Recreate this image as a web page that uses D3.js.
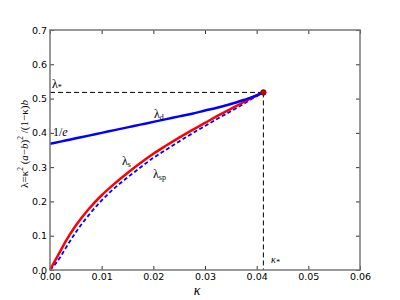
<!DOCTYPE html>
<html>
<head>
<meta charset="utf-8">
<script src="https://cdn.jsdelivr.net/npm/d3@7"></script>
<style>
  body { margin: 0; background: #fff; }
  svg { display: block; }
  .tick text { font-family: "DejaVu Sans", sans-serif; font-size: 9.5px; fill: #000; }
  .math { font-family: "Liberation Serif", "DejaVu Serif", serif; }
</style>
</head>
<body>
<svg id="chart" width="400" height="300"></svg>
<script>
// kappa grid shared by the curves
const kappa = [0, 0.0005, 0.001, 0.002, 0.003, 0.005, 0.0075, 0.01, 0.0125, 0.015,
  0.0175, 0.02, 0.0225, 0.025, 0.0275, 0.03, 0.0325, 0.035, 0.0375, 0.04, 0.0413];
// lambda_s (red solid)
const lamS = [0, 0.014, 0.028, 0.055, 0.083, 0.130, 0.178, 0.218, 0.252, 0.283,
  0.312, 0.339, 0.363, 0.386, 0.408, 0.429, 0.450, 0.470, 0.490, 0.509, 0.518];
// lambda_sp (blue dashed)
const lamSp = [0, 0.008, 0.017, 0.038, 0.063, 0.110, 0.160, 0.203, 0.239, 0.270,
  0.299, 0.327, 0.351, 0.375, 0.398, 0.420, 0.442, 0.463, 0.485, 0.507, 0.518];
// lambda_d (blue solid)
const lamD = [0.368, 0.3696, 0.3712, 0.3744, 0.3776, 0.384, 0.392, 0.400, 0.408, 0.416,
  0.424, 0.432, 0.440, 0.448, 0.456, 0.465, 0.474, 0.484, 0.496, 0.509, 0.518];

const kStar = 0.0413, lStar = 0.518;
const xTicks = [0, 0.01, 0.02, 0.03, 0.04, 0.05, 0.06];
const yTicks = [0, 0.1, 0.2, 0.3, 0.4, 0.5, 0.6, 0.7];

const svg = d3.select('#chart');
const m = { left: 50, right: 360, top: 30, bottom: 270 };

const x = d3.scaleLinear().domain([0, 0.06]).range([m.left, m.right]);
const y = d3.scaleLinear().domain([0, 0.7]).range([m.bottom, m.top]);

// axes, ticks pointing inward on all four sides
const axisStyle = g => {
  g.select('.domain').remove();
  g.selectAll('.tick line').attr('stroke', '#000').attr('stroke-width', 0.8);
};
svg.append('g').attr('transform', `translate(0,${m.bottom})`)
  .call(d3.axisBottom(x).tickValues(xTicks).tickFormat(d3.format('.2f')).tickSizeInner(-4).tickPadding(3))
  .call(axisStyle);
svg.append('g').attr('transform', `translate(0,${m.top})`)
  .call(d3.axisTop(x).tickValues(xTicks).tickFormat('').tickSizeInner(-4))
  .call(axisStyle);
svg.append('g').attr('transform', `translate(${m.left},0)`)
  .call(d3.axisLeft(y).tickValues(yTicks).tickFormat(d3.format('.1f')).tickSizeInner(-4).tickPadding(3))
  .call(axisStyle);
svg.append('g').attr('transform', `translate(${m.right},0)`)
  .call(d3.axisRight(y).tickValues(yTicks).tickFormat('').tickSizeInner(-4))
  .call(axisStyle);

// dashed guides to the critical point
svg.append('line')
  .attr('x1', x(0)).attr('x2', x(kStar)).attr('y1', y(lStar)).attr('y2', y(lStar))
  .attr('stroke', '#000').attr('stroke-width', 1).attr('stroke-dasharray', '5,3');
svg.append('line')
  .attr('x1', x(kStar)).attr('x2', x(kStar)).attr('y1', y(lStar)).attr('y2', y(0))
  .attr('stroke', '#000').attr('stroke-width', 1).attr('stroke-dasharray', '5,3');

const line = vals => d3.line().x((d, i) => x(kappa[i])).y(d => y(d)).curve(d3.curveMonotoneX)(vals);

svg.append('path').attr('d', line(lamSp)).attr('fill', 'none')
  .attr('stroke', '#0000ff').attr('stroke-width', 1.8).attr('stroke-dasharray', '4,2.5');
svg.append('path').attr('d', line(lamS)).attr('fill', 'none')
  .attr('stroke', '#ff0000').attr('stroke-width', 2.5);
svg.append('path').attr('d', line(lamD)).attr('fill', 'none')
  .attr('stroke', '#0000ff').attr('stroke-width', 2.5);

svg.append('circle').attr('cx', x(kStar)).attr('cy', y(lStar)).attr('r', 2.8)
  .attr('fill', '#cc0000').attr('stroke', '#550000').attr('stroke-width', 0.6);

// frame
svg.append('rect').attr('x', m.left).attr('y', m.top)
  .attr('width', m.right - m.left).attr('height', m.bottom - m.top)
  .attr('fill', 'none').attr('stroke', '#777').attr('stroke-width', 1.5);

// labels
const label = (px, py, main, sub, size) => {
  const t = svg.append('text').attr('class', 'math').attr('x', px).attr('y', py)
    .attr('font-size', size || 12);
  t.append('tspan').text(main);
  if (sub) t.append('tspan').attr('font-size', 8).attr('dy', 2).text(sub);
  return t;
};
label(52, 88, 'λ', '*');
label(53, 136, '1/', null).append('tspan').attr('font-style', 'italic').text('e');
label(154, 118, 'λ', 'd');
label(122, 165, 'λ', 's');
label(153, 178, 'λ', 'sp');
label(271, 263, 'κ', '*', 10).attr('font-style', 'italic');

svg.append('text').attr('class', 'math').attr('x', 197).attr('y', 295)
  .attr('text-anchor', 'middle').attr('font-size', 14).attr('font-style', 'italic').text('κ');

// y axis label
const yl = svg.append('text').attr('class', 'math')
  .attr('transform', 'translate(28,144) rotate(-90)')
  .attr('text-anchor', 'middle').attr('font-size', 11);
yl.append('tspan').text('λ=κ');
yl.append('tspan').attr('font-size', 7.5).attr('dy', -5).text('2');
yl.append('tspan').attr('dy', 5).text(' (');
yl.append('tspan').attr('font-style', 'italic').text('a');
yl.append('tspan').text('−');
yl.append('tspan').attr('font-style', 'italic').text('b');
yl.append('tspan').text(')');
yl.append('tspan').attr('font-size', 7.5).attr('dy', -5).text('2');
yl.append('tspan').attr('dy', 5).text(' /(1−κ)');
yl.append('tspan').attr('font-style', 'italic').text('b');
</script>
</body>
</html>
